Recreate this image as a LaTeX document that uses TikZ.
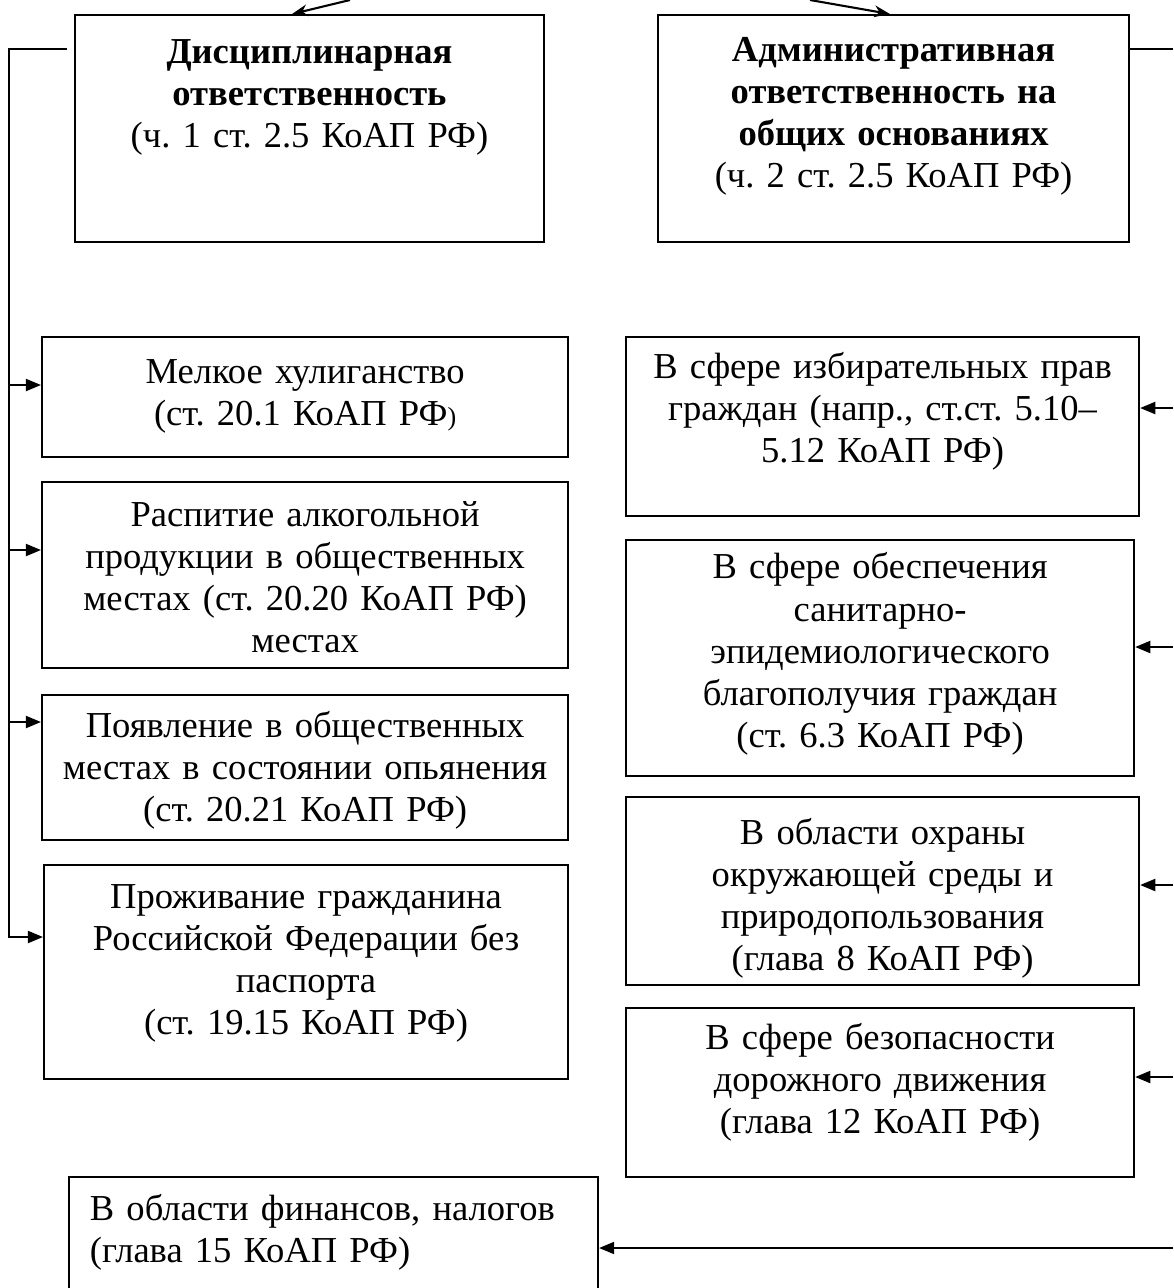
\documentclass[tikz,border=0pt]{standalone}
\usepackage{fontspec}
\setmainfont{Liberation Serif}
\usetikzlibrary{arrows.meta}
\frenchspacing

\begin{document}
\begin{tikzpicture}[x=0.383pt,y=-0.383pt,>={Triangle[length=5.8pt,width=4.6pt]},
  font=\fontsize{14}{16.1}\selectfont,
  box/.style={draw,line width=0.8pt,anchor=north west,align=center,
    inner sep=0pt},
  link/.style={line width=0.8pt}]
  \path[use as bounding box] (0,0) rectangle (1173,1288);
  \node[box,text width=179.6pt,text height=18.4pt,text depth=68.6pt]
    (discipline) at (74,14)
    {\textbf{Дисциплинарная}\\\textbf{ответственность}\\(ч. 1 ст. 2.5 КоАП РФ)};
  \node[box,text width=180.4pt,text height=17.6pt,text depth=69.3pt]
    (admin) at (657,14)
    {\textbf{Административная}\\\textbf{ответственность на}\\
     \textbf{общих основаниях}\\(ч. 2 ст. 2.5 КоАП РФ)};
  \node[box,text width=201.5pt,text height=17.6pt,text depth=28.4pt]
    (hooligan) at (41,336)
    {Мелкое хулиганство\\(ст. 20.1 КоАП РФ{\fontsize{10}{12}\selectfont)}};
  \node[box,text width=201.5pt,text height=16.9pt,text depth=54.3pt]
    (alcohol) at (41,481)
    {Распитие алкогольной\\продукции в общественных\\
     местах (ст. 20.20 КоАП РФ)\\местах};
  \node[box,text width=201.5pt,text height=16.1pt,text depth=39.4pt]
    (drunk) at (41,694)
    {Появление в общественных\\местах в состоянии опьянения\\
     (ст. 20.21 КоАП РФ)};
  \node[box,text width=200.7pt,text height=16.5pt,text depth=65.4pt]
    (passport) at (43,864)
    {Проживание гражданина\\Российской Федерации без\\паспорта\\
     (ст. 19.15 КоАП РФ)};
  \node[box,text width=196.5pt,text height=16pt,text depth=52.5pt]
    (elections) at (625,336)
    {В сфере избирательных прав\\граждан (напр., ст.ст. 5.10–\\5.12 КоАП РФ)};
  \node[box,text width=194.6pt,text height=14.9pt,text depth=75.5pt]
    (sanitary) at (625,539)
    {В сфере обеспечения\\санитарно-\\эпидемиологического\\
     благополучия граждан\\(ст. 6.3 КоАП РФ)};
  \node[box,text width=196.5pt,text height=18pt,text depth=54.1pt]
    (environment) at (625,796)
    {В области охраны\\окружающей среды и\\природопользования\\
     (глава 8 КоАП РФ)};
  \node[box,text width=194.6pt,text height=15.7pt,text depth=49pt]
    (traffic) at (625,1007)
    {В сфере безопасности\\дорожного движения\\(глава 12 КоАП РФ)};
  \node[box,align=left,inner xsep=8pt,text width=186.6pt,text height=16.8pt,
    text depth=40.6pt] (finance) at (68,1176)
    {В области финансов, налогов\\(глава 15 КоАП РФ)};
  \coordinate (discIn) at (350,0);
  \coordinate (adminIn) at (810,0);
  \draw[link,-{Stealth[length=6pt,width=4.5pt]}] (discIn)
    -- ([xshift=83.5pt]discipline.north west);
  \draw[link,-{Stealth[length=6pt,width=4.5pt]}] (adminIn)
    -- ([xshift=89.2pt]admin.north west);
  \coordinate (leftEnd) at (67,49);
  \coordinate (leftTop) at (9,49);
  \coordinate (leftFoot) at (9,937);
  \draw[link,->] (leftEnd) -- (leftTop) -- (leftFoot)
    -- (leftFoot -| passport.west);
  \foreach \nm/\yy in {hooligan/385,alcohol/550,drunk/722}{
    \coordinate (tap) at (9,\yy);
    \draw[link,->] (tap) -- (tap -| \nm.west);
  }
  \coordinate (rightTop) at (1173,49);
  \draw[link] (admin.east |- rightTop) -- (rightTop);
  \foreach \nm/\yy in {elections/408,sanitary/647,environment/885,
    traffic/1077,finance/1248}{
    \coordinate (tap) at (1173,\yy);
    \draw[link,->] (tap) -- (tap -| \nm.east);
  }
\end{tikzpicture}
\end{document}
